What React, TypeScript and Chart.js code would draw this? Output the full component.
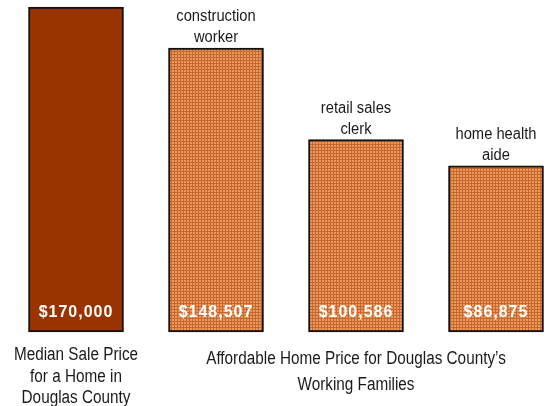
import React, { useEffect, useRef } from "react";
import { Chart, registerables } from "chart.js";

Chart.register(...registerables);

const categories = ["Median Sale Price", "construction worker", "retail sales clerk", "home health aide"];
const values = [170000, 148507, 100586, 86875];
const topLabels: string[][] = [[], ["construction", "worker"], ["retail sales", "clerk"], ["home health", "aide"]];
const bottomLeftLabel = ["Median Sale Price", "for a Home in", "Douglas County"];
const bottomGroupLabel = ["Affordable Home Price for Douglas County\u2019s", "Working Families"];

const FONT_FAMILY = "'Liberation Sans', Arial, sans-serif";

function makePattern(): CanvasPattern | string {
  const c = document.createElement("canvas");
  c.width = 3;
  c.height = 3;
  const g = c.getContext("2d");
  if (!g) return "#D37B44";
  g.fillStyle = "#C6672F";
  g.fillRect(0, 0, 3, 3);
  g.fillStyle = "#EA985C";
  g.fillRect(1, 1, 2, 2);
  const p = g.createPattern(c, "repeat");
  return p || "#D37B44";
}

function narrowText(ctx: CanvasRenderingContext2D, text: string, x: number, y: number, sx: number) {
  ctx.save();
  ctx.translate(x, y);
  ctx.scale(sx, 1);
  ctx.fillText(text, 0, 0);
  ctx.restore();
}

const labelPlugin = {
  id: "labelPlugin",
  afterDatasetsDraw(chart: any) {
    const ctx = chart.ctx as CanvasRenderingContext2D;
    const meta = chart.getDatasetMeta(0);
    const area = chart.chartArea;
    ctx.save();
    // value labels inside bars
    ctx.fillStyle = "#ffffff";
    ctx.textAlign = "center";
    ctx.textBaseline = "alphabetic";
    ctx.font = `bold 16px ${FONT_FAMILY}`;
    (ctx as any).letterSpacing = "1px";
    meta.data.forEach((bar: any, i: number) => {
      const txt = "$" + values[i].toLocaleString("en-US");
      ctx.fillText(txt, bar.x, area.bottom - 15);
    });
    (ctx as any).letterSpacing = "0px";
    // labels above bars
    ctx.fillStyle = "#1a1a1a";
    ctx.font = `16px ${FONT_FAMILY}`;
    meta.data.forEach((bar: any, i: number) => {
      const lines = topLabels[i];
      const n = lines.length;
      lines.forEach((line, j) => {
        const y = bar.y - 6 - (n - 1 - j) * 21;
        narrowText(ctx, line, bar.x, y, 0.92);
      });
    });
    // bottom labels
    ctx.font = `18px ${FONT_FAMILY}`;
    const x0 = meta.data[0].x;
    bottomLeftLabel.forEach((line, j) => {
      narrowText(ctx, line, x0, area.bottom + 28 + j * 21.5, 0.85);
    });
    const gx = meta.data[2].x;
    bottomGroupLabel.forEach((line, j) => {
      narrowText(ctx, line, gx, area.bottom + 32 + j * 26, 0.85);
    });
    ctx.restore();
  },
};

export default function App() {
  const ref = useRef<HTMLCanvasElement | null>(null);
  useEffect(() => {
    if (!ref.current) return;
    const pattern = makePattern();
    const chart = new Chart(ref.current, {
      type: "bar",
      data: {
        labels: categories,
        datasets: [
          {
            data: values,
            backgroundColor: ["#993300", pattern, pattern, pattern] as any,
            borderColor: "#111111",
            borderWidth: 2,
            borderSkipped: false,
            barThickness: 95,
            clip: false as any,
          },
        ],
      },
      options: {
        animation: false,
        responsive: true,
        maintainAspectRatio: false,
        layout: { padding: { left: 76, right: 52, top: 7, bottom: 74 } },
        plugins: { legend: { display: false }, tooltip: { enabled: false }, title: { display: false } },
        scales: {
          x: { display: false, offset: false, grid: { offset: false } },
          y: { display: false, min: 0, max: 170000 },
        },
      },
      plugins: [labelPlugin],
    });
    return () => chart.destroy();
  }, []);
  return (
    <div style={{ position: "absolute", left: 0, top: 0, width: 548, height: 406, background: "#fff" }}>
      <canvas ref={ref} />
    </div>
  );
}
